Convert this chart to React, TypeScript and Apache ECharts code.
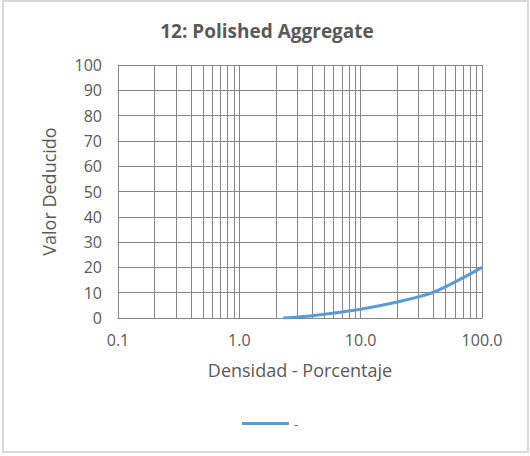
import React, { useEffect, useRef } from "react";
import * as echarts from "echarts";

const titleText = "12: Polished Aggregate";
const xAxisName = "Densidad - Porcentaje";
const yAxisName = "Valor Deducido";
const seriesName = "-";
const densities = [2.3, 4, 10, 20, 40, 100];
const deductValues = [0, 0.9, 3.5, 6.3, 10.2, 20];
const minorGridValues = [
  0.2, 0.3, 0.4, 0.5, 0.6, 0.7, 0.8, 0.9,
  2, 3, 4, 5, 6, 7, 8, 9,
  20, 30, 40, 50, 60, 70, 80, 90,
];

const FONT = "'Open Sans', 'Liberation Sans', sans-serif";
const GRAY = "#595959";
const GRID = "#868686";

export default function App() {
  const ref = useRef<HTMLDivElement>(null);
  useEffect(() => {
    document.body.style.margin = "0";
    const chart = echarts.init(ref.current!, null, { renderer: "svg" });
    chart.setOption({
      animation: false,
      backgroundColor: "#ffffff",
      title: {
        text: titleText,
        left: 262,
        top: 16,
        textAlign: "center",
        textStyle: { fontFamily: FONT, fontSize: 19, fontWeight: "bold", color: GRAY },
      },
      grid: { left: 118, right: 48, top: 65, bottom: 138 },
      legend: {
        data: [{ name: seriesName, icon: "rect" }],
        left: 237,
        top: 412,
        itemWidth: 47,
        itemHeight: 3,
        itemGap: 4,
        textStyle: { fontFamily: FONT, fontSize: 13, color: GRAY },
      },
      graphic: [
        {
          type: "rect",
          shape: { x: 3, y: 1, width: 525, height: 451 },
          style: { fill: "none", stroke: "#d9d9d9", lineWidth: 2 },
          silent: true,
          z: 100,
        },
      ],
      xAxis: {
        type: "log",
        logBase: 10,
        min: 0.1,
        max: 100,
        name: xAxisName,
        nameLocation: "middle",
        nameGap: 43,
        nameTextStyle: { fontFamily: FONT, fontSize: 18, color: GRAY },
        axisLine: { show: true, lineStyle: { color: GRID, width: 1 } },
        axisTick: { show: false },
        axisLabel: {
          fontFamily: FONT,
          fontSize: 16,
          color: GRAY,
          margin: 14,
          formatter: (v: number) => v.toFixed(1),
        },
        splitLine: { show: true, lineStyle: { color: GRID, width: 1 } },
      },
      yAxis: {
        type: "value",
        min: 0,
        max: 100,
        interval: 10,
        name: yAxisName,
        nameLocation: "middle",
        nameGap: 60,
        nameTextStyle: { fontFamily: FONT, fontSize: 18, color: GRAY },
        axisLine: { show: true, lineStyle: { color: GRID, width: 1 } },
        axisTick: { show: false },
        axisLabel: { fontFamily: FONT, fontSize: 16, color: GRAY, margin: 16 },
        splitLine: { show: true, lineStyle: { color: GRID, width: 1 } },
      },
      series: [
        {
          name: seriesName,
          type: "line",
          data: densities.map((d, i) => [d, deductValues[i]]),
          showSymbol: false,
          smooth: 0.3,
          lineStyle: { color: "#5b9bd5", width: 3 },
          itemStyle: { color: "#5b9bd5" },
          z: 5,
          markLine: {
            silent: true,
            symbol: "none",
            label: { show: false },
            lineStyle: { color: GRID, width: 1, type: "solid" },
            data: minorGridValues.map((v) => ({ xAxis: v })),
            z: 1,
          },
        },
      ],
    });
    return () => chart.dispose();
  }, []);
  return <div ref={ref} style={{ width: 530, height: 456 }} />;
}
